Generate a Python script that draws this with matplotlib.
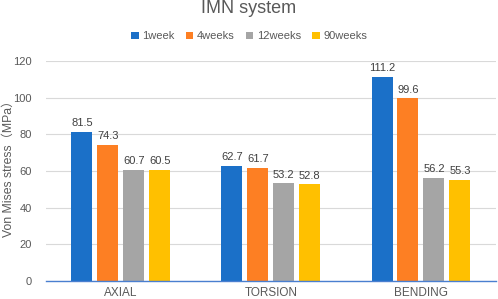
import matplotlib
matplotlib.use("Agg")
import matplotlib.pyplot as plt
import numpy as np

plt.rcParams['font.family'] = ['Liberation Sans', 'Noto Sans CJK SC', 'DejaVu Sans']

categories = ["AXIAL", "TORSION", "BENDING"]
series_names = ["1week", "4weeks", "12weeks", "90weeks"]
week1 = [81.5, 62.7, 111.2]
weeks4 = [74.3, 61.7, 99.6]
weeks12 = [60.7, 53.2, 56.2]
weeks90 = [60.5, 52.8, 55.3]
yticks = [0, 20, 40, 60, 80, 100, 120]

colors = ["#1b70c8", "#fd7f23", "#a5a5a5", "#ffc000"]
series = [week1, weeks4, weeks12, weeks90]

fig = plt.figure(figsize=(4.98, 2.99), dpi=100)
ax = fig.add_axes([0.092, 0.0602, 0.904, 0.736])

x = np.arange(len(categories))
w = 0.14
step = 0.173
offsets = (np.arange(4) - 1.5) * step
for i, (vals, name) in enumerate(zip(series, series_names)):
    bars = ax.bar(x + offsets[i], vals, width=w, color=colors[i], label=name, zorder=3)
    for b, v in zip(bars, vals):
        ax.text(b.get_x() + b.get_width() / 2, v + 2.0, f"{v:.1f}", ha='center', va='bottom',
                fontsize=8, color='#404040')

ax.set_xlim(-0.5, 2.5)
ax.set_ylim(0, 120)
ax.set_yticks(yticks)
ax.set_xticks(x)
ax.set_xticklabels(categories)
ax.tick_params(axis='both', length=0, labelsize=8, colors='#595959')
ax.tick_params(axis='x', pad=4, labelsize=8.5)
ax.tick_params(axis='y', pad=10)
ax.yaxis.grid(True, color='#d9d9d9', linewidth=0.8, zorder=0)
for s in ['top', 'right', 'left']:
    ax.spines[s].set_visible(False)
ax.spines['bottom'].set_color('#4a7fd0')
ax.spines['bottom'].set_linewidth(1.0)
ax.spines['bottom'].set_zorder(4)

fig.text(0.018, 1 - 166 / 299, "Von Mises stress（MPa）", rotation=90, ha='center', va='center',
         fontsize=8.8, color='#595959')

fig.text(0.5, 0.972, "IMN system", ha='center', va='center', fontsize=13, color='#595959')
fig.legend(loc='center', bbox_to_anchor=(0.5, 0.878), ncol=4, frameon=False, fontsize=8,
           handlelength=0.7, handleheight=0.7, handletextpad=0.3, columnspacing=1.0,
           labelcolor='#595959')

fig.savefig("out.png", dpi=100)
